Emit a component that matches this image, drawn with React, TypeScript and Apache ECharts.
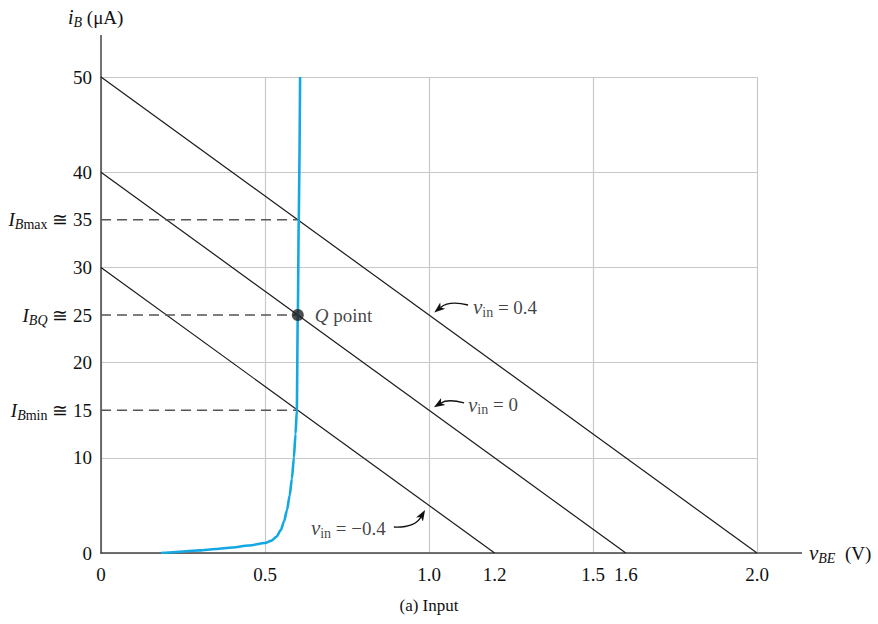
import React, { useEffect, useRef } from "react";
import * as echarts from "echarts";

// ---- data ----
const loadLineHigh = [[0, 50], [2.0, 0]]; // v_in = 0.4
const loadLineMid = [[0, 40], [1.6, 0]]; // v_in = 0
const loadLineLow = [[0, 30], [1.2, 0]]; // v_in = -0.4

const curveVbe = [0.183, 0.22, 0.26, 0.3, 0.35, 0.4, 0.45, 0.5, 0.52, 0.535, 0.548, 0.558, 0.567, 0.575, 0.582, 0.588, 0.593, 0.597, 0.6, 0.603, 0.607];
const curveIb = [0, 0.08, 0.18, 0.28, 0.42, 0.58, 0.78, 1.05, 1.3, 1.7, 2.4, 3.3, 4.5, 6.0, 7.8, 10.0, 12.5, 15, 25, 35, 50];

const qPoint = [0.6, 25];
const operatingLevels = [15, 25, 35];
const operatingVbe = 0.6;

const xMainTicks = [0, 0.5, 1.0, 1.5, 2.0];
const xExtraTicks = [1.2, 1.6];
const yMainTicks = [0, 10, 20, 30, 40, 50];
const yMarkedTicks = [15, 25, 35];
const yMarkedSubs = ["min", "Q", "max"];

const annotationTexts = ["= 0.4", "= 0", "= \u22120.4"];
const annotationAnchors = [[1.134, 25.8], [1.119, 15.55], [0.64, 2.6]];
const arrowStarts = [[1.119, 26.05], [1.107, 15.76], [0.893, 2.73]];
const arrowEnds = [[1.016, 25.25], [1.015, 15.3], [0.988, 4.52]];
const arrowCurves = [-0.25, -0.22, -0.3];

const FONT = "Liberation Serif";
const INK = "#111";
const FS = 19;
const SUB = 14;

const richBase = {
  I: { fontFamily: FONT, fontStyle: "italic", fontSize: FS, color: INK, lineHeight: 24 },
  n: { fontFamily: FONT, fontSize: FS, color: INK, lineHeight: 24 },
  sb: { fontFamily: FONT, fontStyle: "italic", fontSize: SUB, color: INK, lineHeight: 11, verticalAlign: "bottom" },
  sr: { fontFamily: FONT, fontSize: SUB, color: INK, lineHeight: 11, verticalAlign: "bottom" },
};

function renderArrow(params: any, api: any) {
  const p1 = api.coord([api.value(0), api.value(1)]);
  const p2 = api.coord([api.value(2), api.value(3)]);
  const c = api.value(4);
  const cp = [(p1[0] + p2[0]) / 2 - (p1[1] - p2[1]) * c, (p1[1] + p2[1]) / 2 - (p2[0] - p1[0]) * c];
  let dx = p2[0] - cp[0];
  let dy = p2[1] - cp[1];
  const len = Math.sqrt(dx * dx + dy * dy) || 1;
  dx /= len;
  dy /= len;
  const headLen = 11;
  const headW = 4;
  const base = [p2[0] - dx * headLen, p2[1] - dy * headLen];
  const notch = [p2[0] - dx * headLen * 0.75, p2[1] - dy * headLen * 0.75];
  const px = -dy;
  const py = dx;
  return {
    type: "group",
    children: [
      {
        type: "bezierCurve",
        shape: { x1: p1[0], y1: p1[1], x2: notch[0], y2: notch[1], cpx1: cp[0], cpy1: cp[1] },
        style: { stroke: "#111", lineWidth: 1.3, fill: null },
      },
      {
        type: "polygon",
        shape: {
          points: [
            [p2[0], p2[1]],
            [base[0] + px * headW, base[1] + py * headW],
            [notch[0], notch[1]],
            [base[0] - px * headW, base[1] - py * headW],
          ],
        },
        style: { fill: "#111", stroke: null },
      },
    ],
  };
}

export default function App() {
  const ref = useRef<HTMLDivElement>(null);
  useEffect(() => {
    if (!ref.current) return;
    const chart = echarts.init(ref.current, undefined, { renderer: "svg" });
    const near = (a: number, b: number) => Math.abs(a - b) < 1e-6;
    const option: any = {
      animation: false,
      backgroundColor: "#fff",
      grid: { left: 101, top: 77, right: 121, bottom: 71, containLabel: false },
      xAxis: [
        {
          type: "value",
          position: "bottom",
          min: 0,
          max: 2,
          interval: 0.5,
          axisLine: { show: true, onZero: false, lineStyle: { color: "#444", width: 1.5 } },
          axisTick: { show: false },
          splitLine: { show: true, lineStyle: { color: "#c8c8c8", width: 1.2 } },
          axisLabel: {
            margin: 12,
            fontFamily: FONT,
            fontSize: FS,
            color: INK,
            formatter: (v: number) => {
              const t = xMainTicks.find((k) => near(k, v));
              if (t === undefined) return "";
              return t === 0 ? "0" : t.toFixed(1);
            },
          },
        },
        {
          type: "value",
          position: "bottom",
          min: 0,
          max: 2,
          interval: 0.1,
          axisLine: { show: false },
          axisTick: { show: false },
          splitLine: { show: false },
          axisLabel: {
            margin: 12,
            fontFamily: FONT,
            fontSize: FS,
            color: INK,
            formatter: (v: number) => {
              const t = xExtraTicks.find((k) => near(k, v));
              return t === undefined ? "" : t.toFixed(1);
            },
          },
        },
      ],
      yAxis: [
        {
          type: "value",
          position: "left",
          min: 0,
          max: 50,
          interval: 10,
          axisLine: { show: true, onZero: false, lineStyle: { color: "#444", width: 1.5 } },
          axisTick: { show: false },
          splitLine: { show: true, lineStyle: { color: "#c8c8c8", width: 1.2 } },
          axisLabel: {
            margin: 9,
            fontFamily: FONT,
            fontSize: FS,
            color: INK,
            formatter: (v: number) => (yMainTicks.includes(v) ? String(v) : ""),
          },
        },
        {
          type: "value",
          position: "left",
          min: 0,
          max: 50,
          interval: 5,
          axisLine: { show: false },
          axisTick: { show: false },
          splitLine: { show: false },
          axisLabel: {
            margin: 9,
            formatter: (v: number) => {
              const i = yMarkedTicks.indexOf(v);
              if (i < 0) return "";
              const sub = yMarkedSubs[i];
              const subRich = sub === "Q" ? "{sb|BQ}" : "{sb|B}{sr|" + sub + "}";
              return "{I|I}" + subRich + "{n| \u2245 " + v + "}";
            },
            rich: richBase,
          },
        },
      ],
      series: [
        ...[loadLineHigh, loadLineMid, loadLineLow].map((d) => ({
          type: "line",
          data: d,
          symbol: "none",
          lineStyle: { color: "#1a1a1a", width: 1.2 },
          silent: true,
          z: 3,
        })),
        ...operatingLevels.map((lvl) => ({
          type: "line",
          data: [[0, lvl], [operatingVbe, lvl]],
          symbol: "none",
          lineStyle: { color: "#555", width: 1.6, type: [10, 6] },
          silent: true,
          z: 3,
        })),
        {
          type: "line",
          data: curveVbe.map((v, i) => [v, curveIb[i]]),
          symbol: "none",
          smooth: 0.25,
          smoothMonotone: "x",
          lineStyle: { color: "#14a8e3", width: 2.6 },
          silent: true,
          z: 4,
        },
        {
          type: "scatter",
          data: [qPoint],
          symbol: "circle",
          symbolSize: 12,
          itemStyle: { color: "#222" },
          label: {
            show: true,
            position: "right",
            distance: 11,
            formatter: "{q|Q}{n| point}",
            rich: {
              q: { fontFamily: FONT, fontStyle: "italic", fontSize: FS, color: INK },
              n: { fontFamily: FONT, fontSize: FS, color: INK },
            },
          },
          z: 6,
        },
        {
          type: "scatter",
          data: annotationAnchors.map((a, i) => ({
            value: a,
            label: { formatter: "{v|v}{s|in}{n| " + annotationTexts[i] + "}" },
          })),
          symbolSize: 0,
          itemStyle: { color: "transparent" },
          label: {
            show: true,
            position: "right",
            distance: 0,
            rich: {
              v: { fontFamily: FONT, fontStyle: "italic", fontSize: 21, color: INK, lineHeight: 24 },
              s: { fontFamily: FONT, fontSize: SUB, color: INK, lineHeight: 11, verticalAlign: "bottom" },
              n: { fontFamily: FONT, fontSize: FS, color: INK, lineHeight: 24 },
            },
          },
          z: 5,
        },
        {
          type: "custom",
          renderItem: renderArrow,
          data: arrowStarts.map((s, i) => [s[0], s[1], arrowEnds[i][0], arrowEnds[i][1], arrowCurves[i]]),
          encode: { x: [0, 2], y: [1, 3] },
          silent: true,
          z: 5,
        },
      ],
      graphic: [
        { type: "line", shape: { x1: 101, y1: 35, x2: 101, y2: 77 }, style: { stroke: "#444", lineWidth: 1.5 } },
        { type: "line", shape: { x1: 757, y1: 553, x2: 802, y2: 553 }, style: { stroke: "#444", lineWidth: 1.5 } },
        {
          type: "text",
          x: 68,
          y: 5,
          style: {
            text: "{i|i}{sb|B}{n| (\u03bcA)}",
            rich: {
              i: { fontFamily: FONT, fontStyle: "italic", fontSize: 20, fill: INK, lineHeight: 24 },
              sb: { fontFamily: FONT, fontStyle: "italic", fontSize: SUB, fill: INK, lineHeight: 11, verticalAlign: "bottom" },
              n: { fontFamily: FONT, fontSize: FS, fill: INK, lineHeight: 24 },
            },
          },
        },
        {
          type: "text",
          x: 809,
          y: 541,
          style: {
            text: "{v|v}{sb|BE}{n|  (V)}",
            rich: {
              v: { fontFamily: FONT, fontStyle: "italic", fontSize: 21, fill: INK, lineHeight: 24 },
              sb: { fontFamily: FONT, fontStyle: "italic", fontSize: SUB, fill: INK, lineHeight: 11, verticalAlign: "bottom" },
              n: { fontFamily: FONT, fontSize: FS, fill: INK, lineHeight: 24 },
            },
          },
        },
        {
          type: "text",
          x: 429,
          y: 605,
          style: {
            text: "(a) Input",
            fontFamily: FONT,
            fontSize: 17,
            fill: INK,
            textAlign: "center",
            textVerticalAlign: "middle",
          },
        },
      ],
    };
    chart.setOption(option);
    return () => chart.dispose();
  }, []);
  return <div ref={ref} style={{ width: 878, height: 624, position: "absolute", left: 0, top: 0 }} />;
}
